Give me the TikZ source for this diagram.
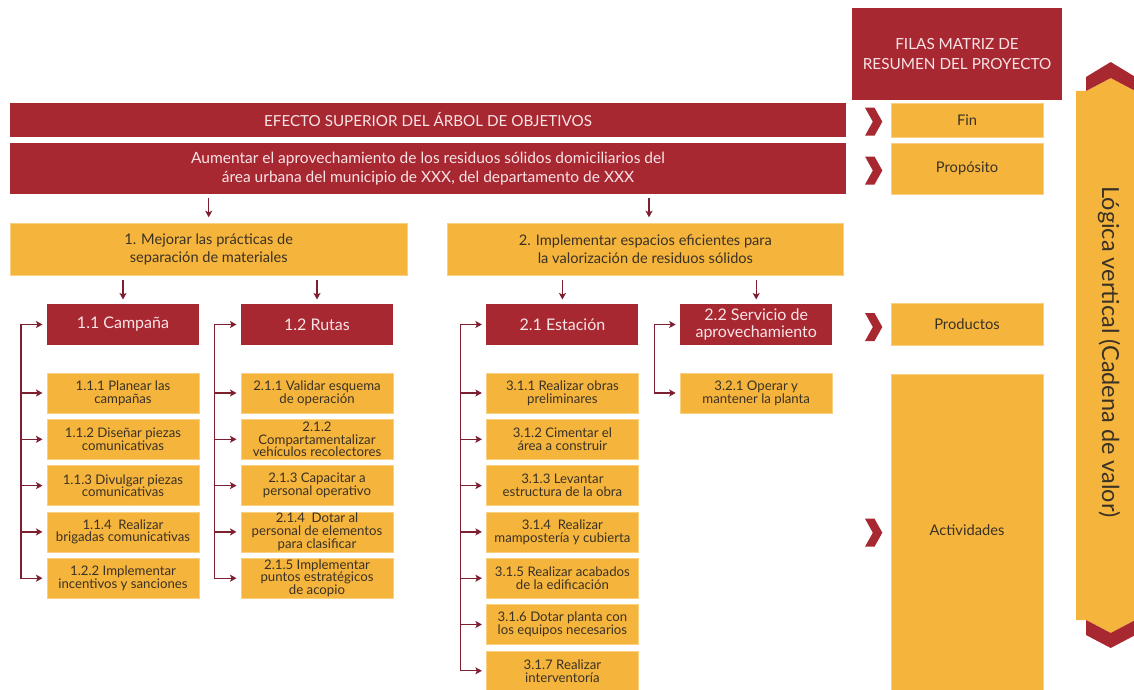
\documentclass[tikz,border=0pt]{standalone}
\usepackage{fontspec}
\setmainfont{Lato}
\usetikzlibrary{arrows.meta}
\definecolor{myred}{HTML}{A82832}
\definecolor{myyellow}{HTML}{F5B53D}
\definecolor{ybord}{HTML}{F9CF80}
\definecolor{txtdark}{HTML}{3A3125}
\definecolor{txtlight}{HTML}{F8E4E6}
\definecolor{linecol}{HTML}{7D1F2F}
\newcommand\fs[2]{\fontsize{#1}{#2}\selectfont}
\tikzset{
  base/.style={inner sep=0pt, outer sep=0pt, align=center},
  redbox/.style={base, fill=myred, text=txtlight},
  ybox/.style={base, fill=myyellow, draw=ybord, line width=0.6pt, text=txtdark},
  actbox/.style={ybox, minimum width=152pt, minimum height=40pt, font=\fs{13.2}{12.8}},
  subred/.style={redbox, minimum width=152pt, minimum height=41pt, font=\fs{16}{17.7}},
  sidebox/.style={ybox, minimum width=152pt, font=\fs{14.7}{16}},
  conn/.style={draw=linecol, line width=1.3pt, line cap=rect},
  arr/.style={draw=linecol, line width=1.3pt, -{Stealth[length=6.5pt,width=7pt,inset=1.5pt]}, shorten >=4.5pt},
  chev/.style={fill=myred}
}
\newcommand\actnode[4]{\node[actbox] (#1) at (#2,#3) {#4};}
\newcommand\chevron[1]{\fill[chev] (865,#1-14) -- (874.5,#1-14) -- (882.3,#1) -- (874.5,#1+14) -- (865,#1+14) -- (872.8,#1) -- cycle;}
\begin{document}
\begin{tikzpicture}[x=1pt,y=-1pt]
\useasboundingbox (0,0) rectangle (1134,690);
\clip (0,0) rectangle (1134,690);

% right-hand vertical arrow
\fill[myyellow] (1076,91) -- (1086,91) -- (1110.7,78) -- (1135.4,91) -- (1135.4,620) -- (1110.7,633) -- (1086,620) -- (1076,620) -- cycle;
\fill[myred] (1086,77) -- (1110.7,62) -- (1135.4,77) -- (1135.4,91) -- (1110.7,78) -- (1086,91) -- cycle;
\fill[myred] (1086,620) -- (1110.7,633) -- (1135.4,620) -- (1135.4,635) -- (1110.7,648) -- (1086,635) -- cycle;
\node[base, rotate=-90, text=txtdark, font=\fs{23.5}{26}] (logica) at (1109,352) {Lógica vertical (Cadena de valor)};

% header and right column
\node[redbox, minimum width=210pt, minimum height=92pt, font=\fs{15.3}{20}] (header) at (957,54) {FILAS MATRIZ DE\\RESUMEN DEL PROYECTO};
\node[sidebox, minimum height=34pt] (fin) at (967,120) {Fin};
\node[sidebox, minimum height=50.5pt] (prop) at (967,168.7) {Propósito};
\node[sidebox, minimum height=42pt] (prod) at (967,324.5) {Productos};
\node[sidebox, minimum height=330pt] (actv) at (967,539) {};
\node[base, text=txtdark, font=\fs{14.7}{16}] (actvlabel) at (967,530) {Actividades};
\chevron{121.7}
\chevron{170.5}
\chevron{327}
\chevron{532.7}

% top bars
\node[redbox, minimum width=836pt, minimum height=34pt, font=\fs{15.2}{18}] (efecto) at (428,120) {EFECTO SUPERIOR DEL ÁRBOL DE OBJETIVOS};
\node[redbox, minimum width=836pt, minimum height=51pt, font=\fs{15.5}{19}] (aum) at (428,168.5) {Aumentar el aprovechamiento de los residuos sólidos domiciliarios del\\área urbana del municipio de XXX, del departamento de XXX};

% level 1
\node[ybox, minimum width=397pt, minimum height=52.4pt, font=\fs{14.6}{18.3}] (m1) at (208.7,249.5) {1. Mejorar las prácticas de\\separación de materiales};
\node[ybox, minimum width=396pt, minimum height=52.4pt, font=\fs{14.6}{18.3}] (m2) at (645.4,249.5) {2. Implementar espacios eficientes para\\la valorización de residuos sólidos};

% level 2
\node[subred] (c11) at (123,324.5) {1.1 Campaña};
\node[subred] (c12) at (317,324.5) {1.2 Rutas};
\node[subred] (c21) at (562.4,324.5) {2.1 Estación};
\node[subred] (c22) at (756.2,324.5) {2.2 Servicio de\\aprovechamiento};

% activities
\actnode{a111}{123}{393}{1.1.1 Planear las\\campañas}
\actnode{a112}{123}{439.3}{1.1.2 Diseñar piezas\\comunicativas}
\actnode{a113}{123}{485.6}{1.1.3 Divulgar piezas\\comunicativas}
\actnode{a114}{123}{531.9}{1.1.4\ \ Realizar\\brigadas comunicativas}
\actnode{a122}{123}{578.2}{1.2.2 Implementar\\incentivos y sanciones}

\actnode{a211}{317}{393}{2.1.1 Validar esquema\\de operación}
\actnode{a212}{317}{439.3}{2.1.2\\Compartamentalizar\\vehículos recolectores}
\actnode{a213}{317}{485.6}{2.1.3 Capacitar a\\personal operativo}
\actnode{a214}{317}{531.9}{2.1.4\ \ Dotar al\\personal de elementos\\para clasificar}
\actnode{a215}{317}{578.2}{2.1.5 Implementar\\puntos estratégicos\\de acopio}

\actnode{a311}{562.4}{393}{3.1.1 Realizar obras\\preliminares}
\actnode{a312}{562.4}{439.3}{3.1.2 Cimentar el\\área a construir}
\actnode{a313}{562.4}{485.6}{3.1.3 Levantar\\estructura de la obra}
\actnode{a314}{562.4}{531.9}{3.1.4\ \ Realizar\\mampostería y cubierta}
\actnode{a315}{562.4}{578.2}{3.1.5 Realizar acabados\\de la edificación}
\actnode{a316}{562.4}{624.5}{3.1.6 Dotar planta con\\los equipos necesarios}
\actnode{a317}{562.4}{670.8}{3.1.7 Realizar\\interventoría}

\actnode{a321}{756.2}{393}{3.2.1 Operar y\\mantener la planta}

% downward arrows
\draw[arr, shorten <=4pt, shorten >=6pt] (m1.north |- aum.south) -- (m1.north);
\draw[arr, shorten <=4pt, shorten >=6pt] (649,194) coordinate (d2) -- (d2 |- m2.north);
\draw[arr, shorten <=4.5pt, shorten >=4.5pt] (c11.north |- m1.south) -- (c11.north);
\draw[arr, shorten <=4.5pt, shorten >=4.5pt] (c12.north |- m1.south) -- (c12.north);
\draw[arr, shorten <=4.5pt, shorten >=4.5pt] (c21.north |- m2.south) -- (c21.north);
\draw[arr, shorten <=4.5pt, shorten >=4.5pt] (c22.north |- m2.south) -- (c22.north);

% brackets
\coordinate (v1) at (21,324.5);
\coordinate (v2) at (214.5,324.5);
\coordinate (v3) at (460.5,324.5);
\coordinate (v4) at (654.5,324.5);
\draw[conn] (v1) -- (v1 |- a122.west);
\draw[conn] (v2) -- (v2 |- a215.west);
\draw[conn] (v3) -- (v3 |- a317.west);
\draw[conn] (v4) -- (v4 |- a321.west);
\foreach \n in {c11,a111,a112,a113,a114,a122} \draw[arr] (v1 |- \n.west) -- (\n.west);
\foreach \n in {c12,a211,a212,a213,a214,a215} \draw[arr] (v2 |- \n.west) -- (\n.west);
\foreach \n in {c21,a311,a312,a313,a314,a315,a316,a317} \draw[arr] (v3 |- \n.west) -- (\n.west);
\foreach \n in {c22,a321} \draw[arr] (v4 |- \n.west) -- (\n.west);
\end{tikzpicture}
\end{document}
